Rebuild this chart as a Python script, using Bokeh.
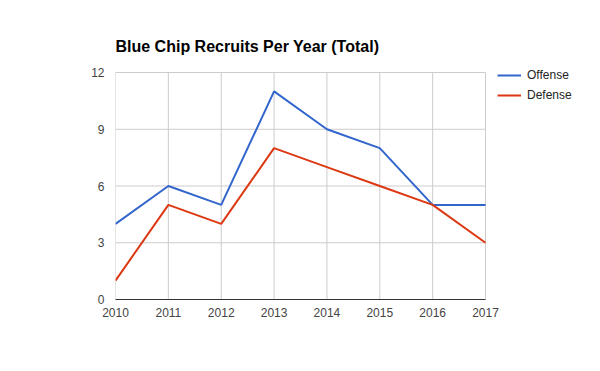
from bokeh.plotting import figure
from bokeh.embed import file_html
from bokeh.resources import INLINE
from bokeh.models import Legend, LegendItem, FixedTicker, Range1d

years = [2010, 2011, 2012, 2013, 2014, 2015, 2016, 2017]
offense = [4, 6, 5, 11, 9, 8, 5, 5]
defense = [1, 5, 4, 8, 7, 6, 5, 3]
y_ticks = [0, 3, 6, 9, 12]
title_text = "Blue Chip Recruits Per Year (Total)"

FONT = "Liberation Sans"

# frame spans 115..600 px horizontally, 60..299 px vertically
px_per_year = 370 / (years[-1] - years[0])
px_per_unit = 227 / (y_ticks[-1] - y_ticks[0])
x_end = years[0] + 485 / px_per_year
y_end = y_ticks[0] + 239 / px_per_unit

p = figure(width=600, height=371, output_backend="svg", toolbar_location=None,
           x_range=Range1d(years[0], x_end), y_range=Range1d(y_ticks[0], y_end),
           min_border_left=115, min_border_right=0, min_border_top=60, min_border_bottom=72)
p.outline_line_color = None
p.background_fill_color = "white"
p.border_fill_color = "white"

p.title.text = title_text
p.title.text_font = FONT
p.title.text_font_size = "16px"
p.title.text_font_style = "bold"
p.title.text_color = "#000000"
p.title.align = "left"
p.title.standoff = 12

# gridlines limited to the data area
p.xgrid.visible = False
p.ygrid.visible = False
p.segment(x0=[years[0]] * len(y_ticks), x1=[years[-1]] * len(y_ticks), y0=y_ticks, y1=y_ticks,
          line_color="#cccccc", line_width=1)
p.segment(x0=years, x1=years, y0=[y_ticks[0]] * len(years), y1=[y_ticks[-1]] * len(years),
          line_color="#cccccc", line_width=1)

l1 = p.line(years, offense, line_color="#3366cc", line_width=2)
l2 = p.line(years, defense, line_color="#dc3912", line_width=2)

p.xaxis.ticker = FixedTicker(ticks=years)
p.yaxis.ticker = FixedTicker(ticks=y_ticks)
for ax in (p.xaxis[0], p.yaxis[0]):
    ax.major_tick_line_color = None
    ax.minor_tick_line_color = None
    ax.major_label_text_font = FONT
    ax.major_label_text_font_size = "12px"
    ax.major_label_text_color = "#444444"
p.xaxis.bounds = (years[0], years[-1])
p.xaxis.axis_line_color = "#333333"
p.xaxis.axis_line_width = 1
p.yaxis.axis_line_color = None
p.xaxis.major_label_standoff = 2
p.yaxis.major_label_standoff = 5

legend = Legend(items=[LegendItem(label="Offense", renderers=[l1]),
                       LegendItem(label="Defense", renderers=[l2])],
                location=(382, 197))
legend.border_line_color = None
legend.background_fill_alpha = 0
legend.label_text_font = FONT
legend.label_text_font_size = "12px"
legend.label_text_color = "#222222"
legend.glyph_width = 24
legend.glyph_height = 14
legend.label_height = 14
legend.label_standoff = 6
legend.spacing = 6
legend.padding = 0
legend.margin = 0
p.add_layout(legend, "center")

open("out.html", "w").write(file_html(p, INLINE))
